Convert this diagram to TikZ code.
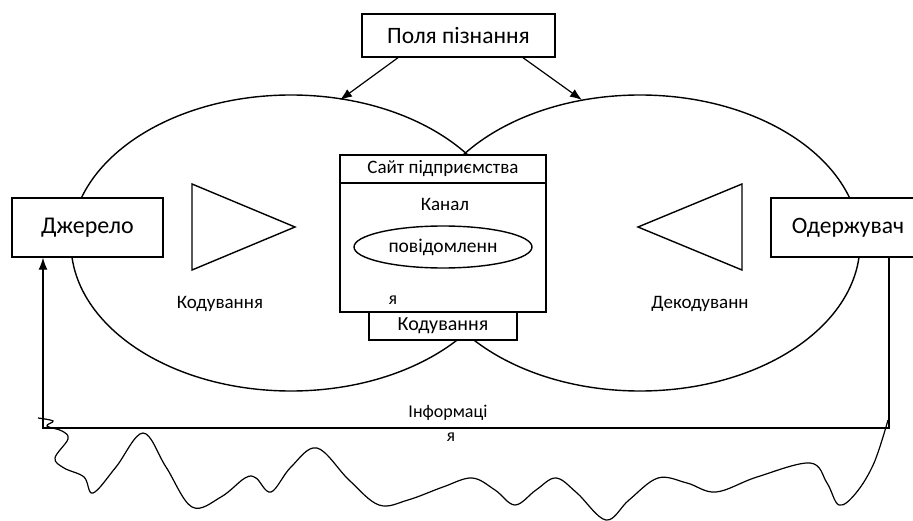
\documentclass[tikz,border=0pt]{standalone}
\usepackage{fontspec}
\setmainfont{Carlito}
\usetikzlibrary{arrows.meta,shapes.geometric}

\begin{document}
\begin{tikzpicture}[x=1pt,y=-1pt,line width=1.4pt,
	blok/.style={draw,fill=white,inner sep=0pt},
	napys/.style={inner sep=0pt},
	strilka/.style={-{Latex[length=12pt,width=9pt]},line width=1.2pt}]
	\useasboundingbox (0,0) rectangle (913,521);

	\draw (291,243) ellipse [x radius=220, y radius=148];
	\draw (640,243) ellipse [x radius=220, y radius=148];

	\node[blok,minimum width=193,minimum height=43,font=\fontsize{23.5}{28}\selectfont] (pole) at (458.5,35.5) {Поля пізнання};
	\coordinate (lvtop) at (340,100);
	\coordinate (prtop) at (582,100);
	\draw[strilka] ([xshift=-60.5]pole.south) -- (lvtop);
	\draw[strilka] ([xshift=64.5]pole.south) -- (prtop);

	\node[blok,minimum width=151,minimum height=59,font=\fontsize{24}{28}\selectfont] (dzherelo) at (87.5,227.5) {Джерело};
	\node[blok,minimum width=154,minimum height=59,font=\fontsize{23.5}{28}\selectfont] (oderzh) at (848,227.5) {Одержувач};

	\draw (192,184) -- (192,270) -- (295,227) -- cycle;
	\draw (742,184) -- (742,270) -- (638,227) -- cycle;
	\node[napys,font=\fontsize{19}{22}\selectfont] (kod) at (220,304) {Кодування};
	\node[napys,font=\fontsize{19}{22}\selectfont] (dekod) at (700,304) {Декодуванн};

	% kanal
	\node[blok,minimum width=206,minimum height=129] (kanal) at (443,247.5) {};
	\node[blok,minimum width=206,minimum height=28,font=\fontsize{19}{22}\selectfont] (sait) at (443,169) {Сайт підприємства};
	\node[napys,font=\fontsize{19}{22}\selectfont] (kanalnapys) at (445,204) {Канал};
	\node[draw,ellipse,minimum width=178,minimum height=42,inner sep=0pt,font=\fontsize{19.5}{23}\selectfont] (povid) at (443,247) {повідомленн};
	\node[napys,font=\fontsize{18}{21}\selectfont] (povidkin) at (393,300) {я};
	\node[blok,minimum width=148,minimum height=28,font=\fontsize{20}{24}\selectfont] (kodbox) at (443,326) {Кодування};

	% zvorotnyi zviazok
	\coordinate (prnyz) at (889,428);
	\coordinate (lvnyz) at (43,428);
	\draw[strilka] (prnyz |- oderzh.south) -- (prnyz) -- (lvnyz) -- (lvnyz |- dzherelo.south);
	\node[napys,font=\fontsize{18}{21}\selectfont] (inform) at (448,413) {Інформаці};
	\node[napys,font=\fontsize{18}{21}\selectfont] (informkin) at (451,437) {я};

	\draw[line width=1.2pt] plot[smooth,tension=0.6] coordinates {(38,418) (53,421) (47,426) (62,431) (68,439) (55,458) (64,468) (84,477) (93,493) (116,467) (143,433) (166,467) (192,507) (221,497) (245,478) (256,478) (271,492) (291,467) (317,448) (349,480) (379,505) (408,500) (443,487) (472,478) (495,490) (515,505) (536,490) (556,478) (577,493) (606,520) (629,500) (658,478) (687,483) (716,492) (757,477) (810,463) (827,483) (839,505) (856,493) (874,463) (888,420)};
\end{tikzpicture}
\end{document}
